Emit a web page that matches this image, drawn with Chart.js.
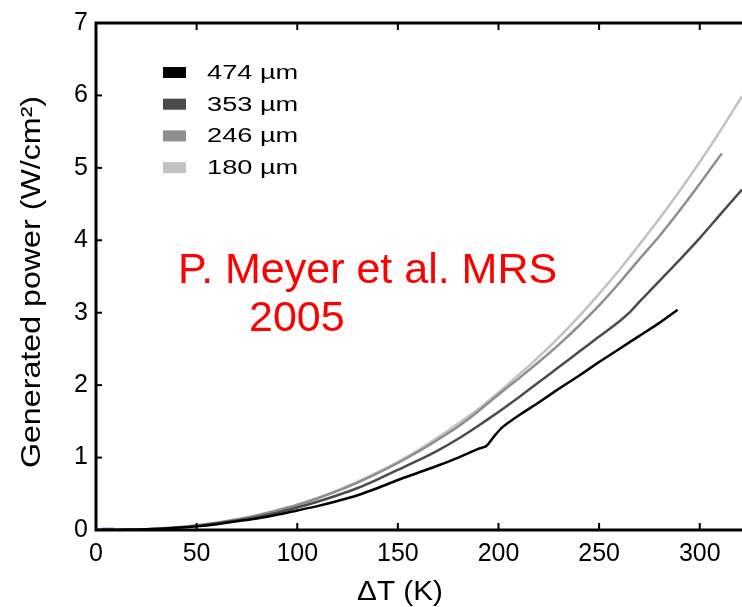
<!DOCTYPE html>
<html>
<head>
<meta charset="utf-8">
<script src="https://cdn.jsdelivr.net/npm/chart.js@4.4.1/dist/chart.umd.min.js"></script>
<style>
  html, body { margin: 0; padding: 0; background: #fff; }
  #wrap { width: 742px; height: 607px; }
</style>
</head>
<body>
<div id="wrap"><canvas id="chart" width="742" height="607"></canvas></div>
<script>
// Temperaturdifferenz (K) und erzeugte Leistung (W/cm2) je Schichtdicke
var t474 = [0, 10, 20, 30, 40, 50, 60, 70, 80, 90, 100, 110, 120, 130, 140, 150, 160, 170, 180, 190, 194, 198, 202, 210, 220, 230, 240, 250, 260, 270, 280, 289];
var p474 = [0, 0, 0.005, 0.015, 0.03, 0.05, 0.08, 0.12, 0.16, 0.21, 0.27, 0.33, 0.40, 0.48, 0.58, 0.69, 0.79, 0.89, 1.00, 1.12, 1.16, 1.30, 1.42, 1.58, 1.76, 1.95, 2.13, 2.32, 2.50, 2.68, 2.86, 3.04];

var t353 = [0, 10, 20, 30, 40, 50, 60, 70, 80, 90, 100, 110, 120, 130, 140, 150, 160, 170, 180, 190, 200, 210, 220, 230, 240, 250, 260, 265, 270, 280, 290, 300, 310, 321];
var p353 = [0, 0, 0.005, 0.015, 0.03, 0.055, 0.09, 0.13, 0.18, 0.24, 0.31, 0.39, 0.48, 0.58, 0.70, 0.83, 0.96, 1.10, 1.26, 1.44, 1.63, 1.83, 2.04, 2.25, 2.46, 2.67, 2.88, 3.00, 3.15, 3.44, 3.73, 4.03, 4.35, 4.70];

var t246 = [0, 10, 20, 30, 40, 50, 60, 70, 80, 90, 100, 110, 120, 130, 140, 150, 160, 170, 180, 190, 200, 210, 220, 230, 240, 250, 260, 270, 280, 290, 300, 311];
var p246 = [0, 0, 0.005, 0.018, 0.035, 0.062, 0.10, 0.145, 0.20, 0.27, 0.345, 0.435, 0.54, 0.655, 0.785, 0.925, 1.08, 1.25, 1.43, 1.64, 1.87, 2.09, 2.32, 2.56, 2.82, 3.10, 3.41, 3.74, 4.06, 4.41, 4.78, 5.20];

var t180 = [0, 10, 20, 30, 40, 50, 60, 70, 80, 90, 100, 110, 120, 130, 140, 150, 160, 170, 180, 190, 200, 210, 220, 230, 240, 250, 260, 270, 280, 290, 300, 310, 321];
var p180 = [0, 0, 0.006, 0.019, 0.038, 0.065, 0.10, 0.148, 0.205, 0.273, 0.35, 0.443, 0.548, 0.666, 0.798, 0.942, 1.10, 1.28, 1.47, 1.67, 1.90, 2.14, 2.39, 2.66, 2.95, 3.26, 3.59, 3.94, 4.30, 4.68, 5.08, 5.50, 5.99];

// kleine blaue Reste an der Nulllinie
var tBlue = [3, 9, 18, 27, 35];
var pBlue = [0.01, 0.01, null, 0.01, 0.01];

var seriesLabels = ['474 \u00b5m', '353 \u00b5m', '246 \u00b5m', '180 \u00b5m'];
var seriesColors = ['#000000', '#4a4a4a', '#8e8e8e', '#c2c2c2'];

var xTicks = [0, 50, 100, 150, 200, 250, 300];
var xTitle = '\u0394T (K)';
var yTitle = 'Generated power (W/cm\u00b2)';
var noteLines = ['P. Meyer et al. MRS', '2005'];

function toPoints(xs, ys) {
    return xs.map(function (x, i) { return { x: x, y: ys[i] }; });
}

function makeSet(i, xs, ys) {
    return {
        label: seriesLabels[i],
        data: toPoints(xs, ys),
        borderColor: seriesColors[i],
        backgroundColor: seriesColors[i],
        borderWidth: 2.5,
        pointRadius: 0,
        tension: 0.2,
        fill: false
    };
}

var FONT = '"Liberation Sans", Arial, Helvetica, sans-serif';

// Rahmen und nach innen zeigende Striche
var framePlugin = {
    id: 'frame',
    afterDatasetsDraw: function (chart) {
        var ctx = chart.ctx, a = chart.chartArea;
        var xs = chart.scales.x, ys = chart.scales.y;
        ctx.save();
        ctx.strokeStyle = '#000';
        ctx.lineWidth = 3;
        ctx.beginPath();
        ctx.moveTo(a.right + 5, a.top);
        ctx.lineTo(a.left, a.top);
        ctx.lineTo(a.left, a.bottom);
        ctx.lineTo(a.right + 5, a.bottom);
        ctx.stroke();
        ctx.lineWidth = 2;
        xs.ticks.forEach(function (t) {
            if (t.value === 0) return;
            var px = xs.getPixelForValue(t.value);
            ctx.beginPath();
            ctx.moveTo(px, a.bottom); ctx.lineTo(px, a.bottom - 7);
            ctx.moveTo(px, a.top); ctx.lineTo(px, a.top + 7);
            ctx.stroke();
        });
        ys.ticks.forEach(function (t) {
            if (t.value === 0 || t.value === 7) return;
            var py = ys.getPixelForValue(t.value);
            ctx.beginPath();
            ctx.moveTo(a.left, py); ctx.lineTo(a.left + 6, py);
            ctx.stroke();
        });
        ctx.restore();
    }
};

// Legende, Achsentitel und roter Hinweis
var textPlugin = {
    id: 'texts',
    afterDraw: function (chart) {
        var ctx = chart.ctx;
        ctx.save();
        ctx.fillStyle = '#000';

        // Legende
        for (var i = 0; i < 4; i++) {
            var ds = chart.data.datasets[i];
            var cy = 72 + i * 31.7;
            ctx.fillStyle = ds.borderColor;
            ctx.fillRect(163, cy - 5, 23, 11);
            ctx.fillStyle = '#000';
            ctx.save();
            ctx.translate(207, cy + 7);
            ctx.scale(1.36, 1);
            ctx.font = '20px ' + FONT;
            ctx.textBaseline = 'alphabetic';
            ctx.fillText(ds.label, 0, 0);
            ctx.restore();
        }

        // x-Titel
        ctx.save();
        ctx.translate(400, 600);
        ctx.scale(1.1, 1);
        ctx.font = '27px ' + FONT;
        ctx.textAlign = 'center';
        ctx.fillText(xTitle, 0, 0);
        ctx.restore();

        // y-Titel
        ctx.save();
        ctx.translate(40, 282);
        ctx.rotate(-Math.PI / 2);
        ctx.scale(1.15, 1);
        ctx.font = '28px ' + FONT;
        ctx.textAlign = 'center';
        ctx.fillText(yTitle, 0, 0);
        ctx.restore();

        // roter Hinweis
        ctx.fillStyle = '#ff0000';
        ctx.font = '43px ' + FONT;
        ctx.textAlign = 'left';
        ctx.fillText(noteLines[0], 178, 283);
        ctx.fillText(noteLines[1], 249, 331);
        ctx.restore();
    }
};

var datasets = [
    makeSet(0, t474, p474),
    makeSet(1, t353, p353),
    makeSet(2, t246, p246),
    makeSet(3, t180, p180),
    {
        label: 'blue',
        data: toPoints(tBlue, pBlue),
        borderColor: '#2030e0',
        borderWidth: 3,
        pointRadius: 0,
        spanGaps: false
    }
];

var chart = new Chart(document.getElementById('chart'), {
    type: 'line',
    data: { datasets: datasets },
    options: {
        responsive: false,
        animation: false,
        layout: { padding: { left: 0, right: 0, top: 19, bottom: 0 } },
        plugins: {
            legend: { display: false },
            tooltip: { enabled: false }
        },
        scales: {
            x: {
                type: 'linear',
                min: 0,
                max: 321,
                afterFit: function (s) { s.height = 77; },
                afterBuildTicks: function (s) {
                    s.ticks = xTicks.map(function (v) { return { value: v }; });
                },
                grid: { display: false, drawTicks: false },
                border: { display: false },
                ticks: {
                    color: '#000',
                    padding: 9,
                    maxRotation: 0,
                    font: { family: FONT, size: 25 }
                }
            },
            y: {
                min: 0,
                max: 7,
                afterFit: function (s) { s.width = 96; },
                grid: { display: false, drawTicks: false },
                border: { display: false },
                ticks: {
                    stepSize: 1,
                    color: '#000',
                    padding: 8,
                    font: { family: FONT, size: 25 }
                }
            }
        }
    },
    plugins: [framePlugin, textPlugin]
});
</script>
</body>
</html>
